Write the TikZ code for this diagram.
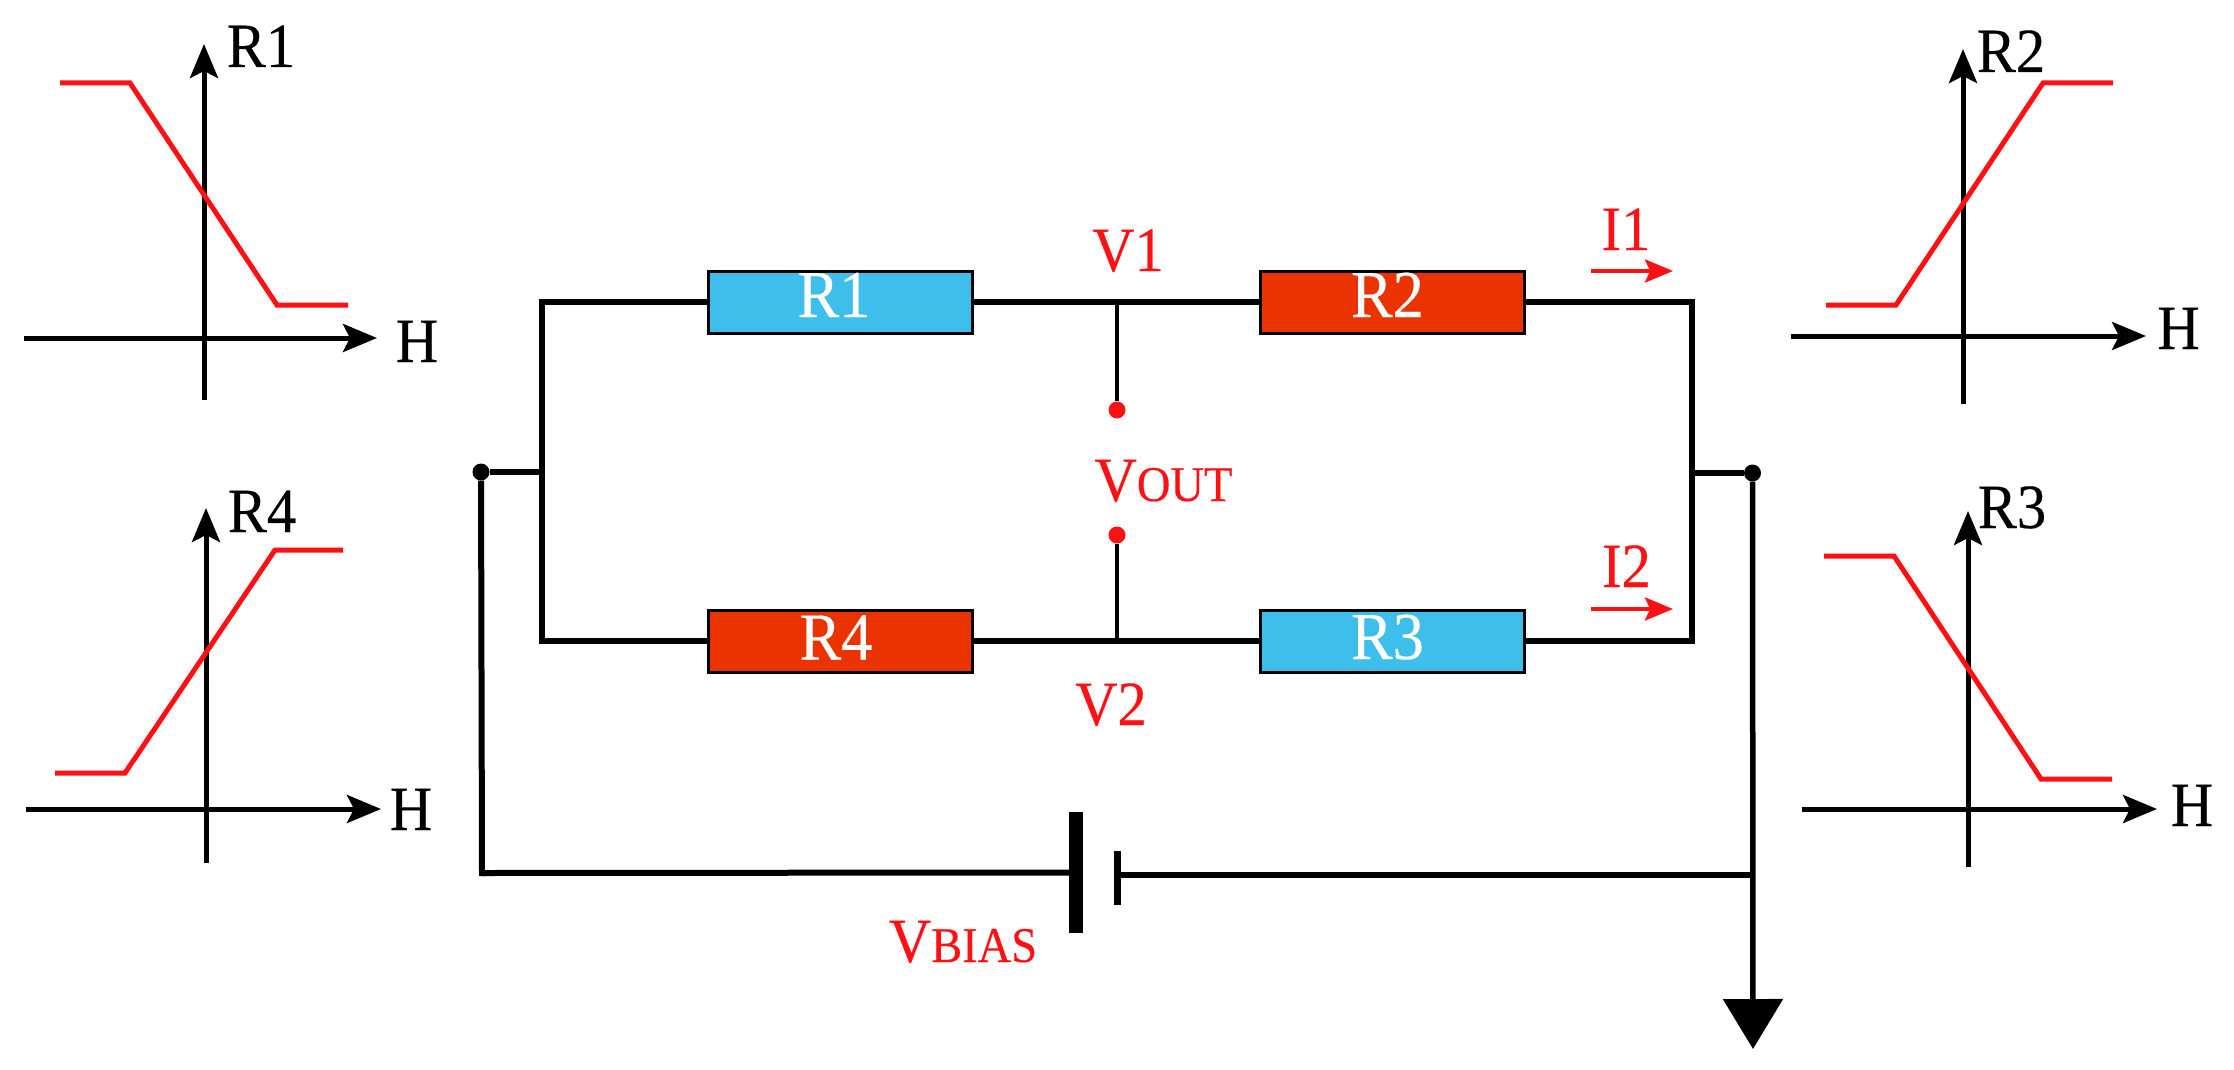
\documentclass[tikz,border=0pt]{standalone}
\usepackage{fontspec}
\setmainfont[FakeStretch=0.93,FakeBold=0.3]{Liberation Serif}
\usetikzlibrary{arrows.meta}
\definecolor{wred}{HTML}{FF1014}
\definecolor{rblue}{HTML}{3DBEEB}
\definecolor{rorange}{HTML}{EB3300}
\newcommand{\bigtxt}{\fontsize{63pt}{70pt}\selectfont}
\newcommand{\boxtxt}{\fontsize{67pt}{72pt}\selectfont}
\newcommand{\smalltxt}{\fontsize{50pt}{60pt}\selectfont}
\tikzset{
  axisline/.style={line width=5pt,-{Stealth[length=34pt,width=28pt,inset=7pt]}},
  curve/.style={line width=5pt,draw=wred,line join=miter},
  wire/.style={line width=6pt,line join=miter},
  stubwire/.style={line width=5.5pt},
  thinwire/.style={line width=4.5pt},
  resistor/.style={draw=black,line width=3pt,minimum width=264pt,minimum height=62pt,inner sep=0pt,
     text=white,text height=44pt,text depth=14pt,font=\boxtxt,anchor=center},
  blackfill/.style={fill=black,inner sep=0pt,draw=none},
  txt/.style={anchor=base,inner sep=0pt,font=\bigtxt},
  redtxt/.style={txt,text=wred},
  terminal/.style={circle,fill=black,inner sep=0pt,minimum size=17pt},
  redterminal/.style={circle,fill=wred,inner sep=0pt,minimum size=17pt},
  current/.style={line width=4pt,draw=wred,-{Stealth[length=28pt,width=23pt,inset=5pt]},wred},
}
\begin{document}
\begin{tikzpicture}[x=1pt,y=-1pt]
\path[use as bounding box] (0,0) rectangle (2234,1070);

% R1 graph
\coordinate (a1t) at (204,44); \coordinate (a1b) at (204,400);
\coordinate (a1l) at (24,338); \coordinate (a1r) at (377,338);
\draw[axisline] (a1b) -- (a1t);
\draw[axisline] (a1l) -- (a1r);
\coordinate (c1a) at (60,83); \coordinate (c1b) at (130,83); \coordinate (c1c) at (277,305); \coordinate (c1d) at (348,305);
\draw[curve] (c1a) -- (c1b) -- (c1c) -- (c1d);
\node[txt] (l1) at (261,67) {R1};
\node[txt] (h1) at (417,362) {H};

% R4 graph
\coordinate (a4t) at (206,508); \coordinate (a4b) at (206,863);
\coordinate (a4l) at (26,809); \coordinate (a4r) at (381,809);
\draw[axisline] (a4b) -- (a4t);
\draw[axisline] (a4l) -- (a4r);
\coordinate (c4a) at (55,773); \coordinate (c4b) at (125,773); \coordinate (c4c) at (275,550); \coordinate (c4d) at (343,550);
\draw[curve] (c4a) -- (c4b) -- (c4c) -- (c4d);
\node[txt] (l4) at (262,532) {R4};
\node[txt] (h4) at (411,830) {H};

% R2 graph
\coordinate (a2t) at (1963,49); \coordinate (a2b) at (1963,404);
\coordinate (a2l) at (1791,336); \coordinate (a2r) at (2146,336);
\draw[axisline] (a2b) -- (a2t);
\draw[axisline] (a2l) -- (a2r);
\coordinate (c2a) at (1826,305); \coordinate (c2b) at (1896,305); \coordinate (c2c) at (2043,83); \coordinate (c2d) at (2113,83);
\draw[curve] (c2a) -- (c2b) -- (c2c) -- (c2d);
\node[txt] (l2) at (2011,72) {R2};
\node[txt] (h2) at (2178.5,349) {H};

% R3 graph
\coordinate (a3t) at (1968,511); \coordinate (a3b) at (1968,867);
\coordinate (a3l) at (1802,809); \coordinate (a3r) at (2157,809);
\draw[axisline] (a3b) -- (a3t);
\draw[axisline] (a3l) -- (a3r);
\coordinate (c3a) at (1824,556); \coordinate (c3b) at (1894,556); \coordinate (c3c) at (2041,779); \coordinate (c3d) at (2112,779);
\draw[curve] (c3a) -- (c3b) -- (c3c) -- (c3d);
\node[txt] (l3) at (2012,528) {R3};
\node[txt] (h3) at (2192,826) {H};

% Bridge
\coordinate (tl) at (542,302); \coordinate (bl) at (542,641);
\coordinate (tr) at (1692,302); \coordinate (br) at (1692,641);
\coordinate (j1) at (1117,302); \coordinate (j2) at (1117,641);
\coordinate (ml) at (542,472); \coordinate (mr) at (1692,473);

\node[terminal] (dl) at (481,472) {};
\node[terminal] (dr) at (1752.5,473) {};
\node[redterminal] (vt) at (1117,410) {};
\node[redterminal] (vb) at (1117,535) {};

\draw[wire] (tl) -- (bl);
\draw[wire] (tr) -- (br);
\draw[wire] (tl) -- (j1) -- (tr);
\draw[wire] (bl) -- (j2) -- (br);
\draw[wire] (tl) -- ++(0,-3) (bl) -- ++(0,3) (tr) -- ++(0,-3) (br) -- ++(0,3);
\draw[stubwire] (dl) -- (ml);
\draw[stubwire] (mr) -- (dr);
\draw[thinwire] (j1) -- (vt);
\draw[thinwire] (j2) -- (vb);

\node[resistor,fill=rblue] (R1) at (840,302) {R1\kern12pt};
\node[resistor,fill=rorange] (R2) at (1392.5,302) {R2\kern10pt};
\node[resistor,fill=rorange,text depth=8pt] (R4) at (840,641.5) {R4\kern8pt};
\node[resistor,fill=rblue,text depth=8pt] (R3) at (1392.5,641) {R3\kern10pt};

% Bias loop
\node[blackfill,minimum width=14pt,minimum height=121pt] (pa) at (1076,872.5) {};
\node[blackfill,minimum width=7pt,minimum height=54pt] (pb) at (1117.5,878) {};
\coordinate (bll) at (482,873);
\coordinate (j3) at (1753,875);
\coordinate (gnd) at (1753,1049);
\draw[wire] (dl) -- (bll) -- ++(0,3);
\draw[wire] (bll) -- (pa.west);
\draw[wire] (pb.center |- j3) -- (j3);
\draw[line width=5.5pt,-{Triangle[length=50pt,width=59pt]}] (dr) -- (gnd);

% Current arrows
\coordinate (i1a) at (1591,271); \coordinate (i1b) at (1673,271);
\coordinate (i2a) at (1591,609); \coordinate (i2b) at (1673,609);
\draw[current] (i1a) -- (i1b);
\draw[current] (i2a) -- (i2b);

% Labels
\node[redtxt] (li1) at (1626,250) {I1};
\node[redtxt] (li2) at (1626.5,587) {I2};
\node[redtxt] (lv1) at (1128,271) {V1};
\node[redtxt] (lv2) at (1111,725) {V2};
\node[redtxt] (lvo) at (1163.5,501) {V{\smalltxt OUT}};
\node[redtxt] (lvb) at (963,962) {V{\smalltxt BIAS}};
\end{tikzpicture}
\end{document}
